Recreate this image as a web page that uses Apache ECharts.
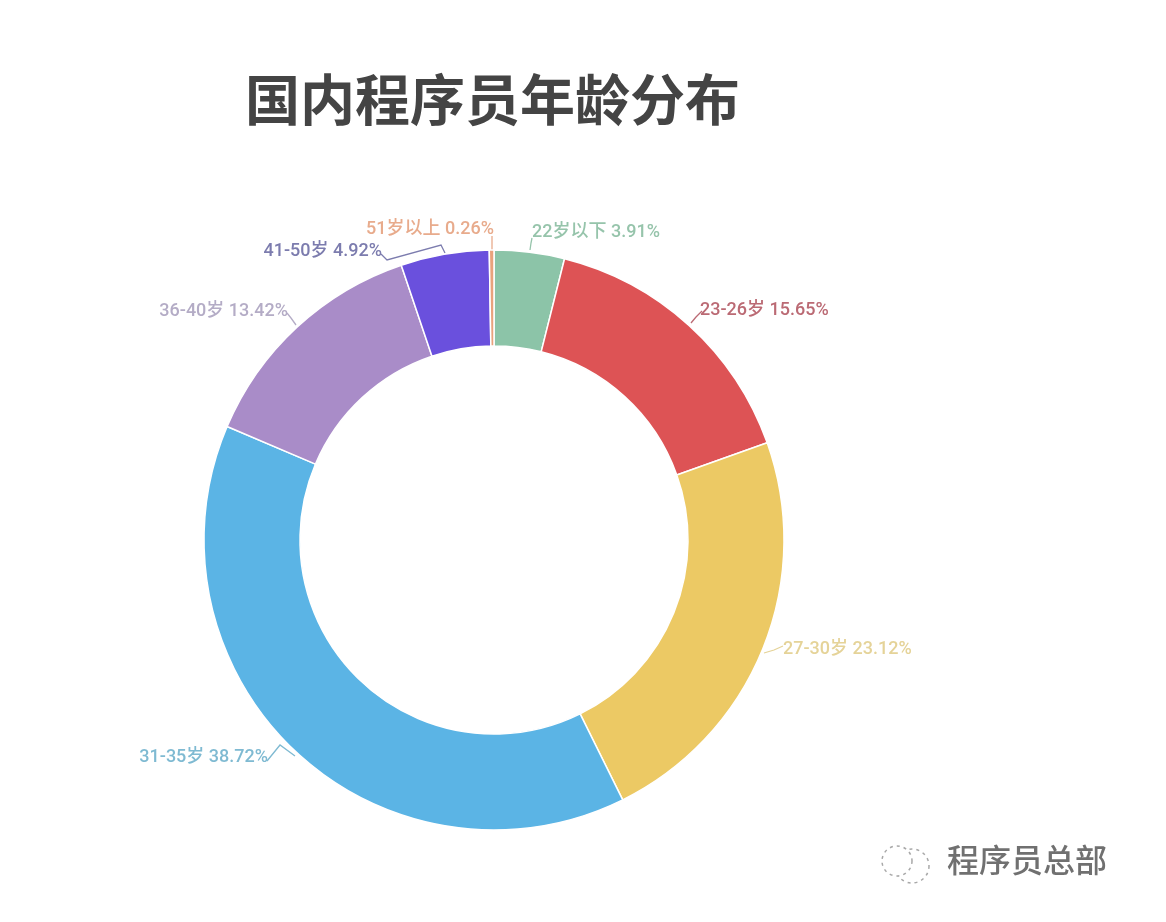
<!DOCTYPE html>
<html lang="zh">
<head>
<meta charset="UTF-8">
<title>国内程序员年龄分布</title>
<style>
    html, body { margin: 0; padding: 0; background: #fff; }
    #chart { width: 1166px; height: 922px; }
</style>
<script src="https://cdn.jsdelivr.net/npm/echarts@6/dist/echarts.min.js"></script>
</head>
<body>
<div id="chart"></div>
<script>
var titleText = '国内程序员年龄分布';
var watermarkText = '程序员总部';
var ageGroups = ['22岁以下', '23-26岁', '27-30岁', '31-35岁', '36-40岁', '41-50岁', '51岁以上'];
var shares = [3.91, 15.65, 23.12, 38.72, 13.42, 4.92, 0.26];
var sliceColors = ['#8cc4a8', '#dd5355', '#ecc964', '#5bb4e5', '#a98cc8', '#6a50dd', '#e9a27c'];
var labelColors = ['#96c4ab', '#bb6a74', '#e5d398', '#7fbad2', '#b4acc6', '#7c7cae', '#e8ab8c'];
// where each label sits on the page: x, y, align
var labelSpots = [
    [532, 232, 'left'], [700, 310, 'left'], [783, 649, 'left'], [268, 757, 'right'],
    [288, 311, 'right'], [382, 251, 'right'], [494, 229, 'right']
];
// leader lines, hand traced because a few of them kink oddly in the original
var leaderLines = [
    [[530, 250], [531, 243], [532, 238]],
    [[691, 323], [696, 317], [702, 311]],
    [[764, 653], [774, 650], [783, 646]],
    [[267, 761], [280, 745], [295, 756]],
    [[296, 325], [291, 318], [287, 313]],
    [[381, 254], [387, 260], [441, 245], [445, 253]],
    [[492, 250], [492, 243], [492, 236]]
];

var myChart = echarts.init(document.getElementById('chart'));
var labelFont = 'Roboto, "Noto Sans CJK SC", sans-serif';

myChart.setOption({
    animation: false,
    title: {
        text: titleText,
        left: 240,
        top: 67,
        textStyle: {
            fontFamily: '"Noto Sans CJK SC", sans-serif',
            fontSize: 55,
            fontWeight: 'bold',
            color: '#444444'
        }
    },
    graphic: [
        {
            type: 'text',
            left: 947,
            top: 844,
            style: {
                text: watermarkText,
                fontFamily: '"Noto Sans CJK SC", sans-serif',
                fontSize: 32,
                fontWeight: 500,
                fill: '#707070'
            }
        },
        {
            type: 'circle',
            shape: { cx: 912, cy: 866, r: 17 },
            style: { fill: 'none', stroke: '#a8a8a8', lineWidth: 1.5, lineDash: [3, 4] }
        },
        {
            type: 'circle',
            shape: { cx: 897, cy: 861, r: 15 },
            style: { fill: '#fff', stroke: '#a8a8a8', lineWidth: 1.5, lineDash: [3, 4] }
        }
    ],
    series: [
        {
            type: 'pie',
            center: [494, 540],
            radius: [194, 290],
            startAngle: 90,
            clockwise: true,
            itemStyle: { borderColor: '#ffffff', borderWidth: 1.5 },
            data: ageGroups.map(function (name, i) {
                return {
                    name: name,
                    value: shares[i],
                    itemStyle: { color: sliceColors[i] },
                    label: { color: labelColors[i] },
                    labelLine: { lineStyle: { color: labelColors[i] } }
                };
            }),
            label: {
                show: true,
                formatter: function (p) {
                    return p.name + ' ' + p.value.toFixed(2) + '%';
                },
                fontFamily: labelFont,
                fontSize: 18,
                fontWeight: 500
            },
            labelLine: { show: true, length: 6, length2: 4, lineStyle: { width: 1.3 } },
            labelLayout: function (params) {
                var spot = labelSpots[params.dataIndex];
                return {
                    x: spot[0],
                    y: spot[1],
                    align: spot[2],
                    verticalAlign: 'middle',
                    labelLinePoints: leaderLines[params.dataIndex]
                };
            }
        }
    ]
});
</script>
</body>
</html>
